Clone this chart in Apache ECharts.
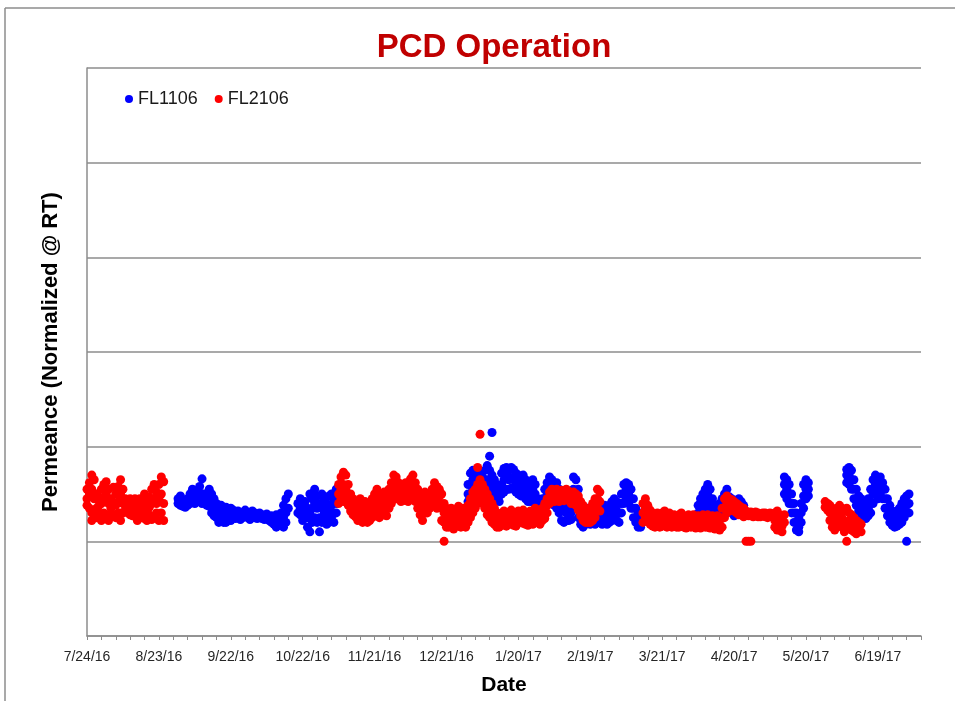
<!DOCTYPE html>
<html>
<head>
<meta charset="utf-8">
<script src="https://cdn.jsdelivr.net/npm/echarts@6/dist/echarts.min.js"></script>
<style>
  html, body { margin: 0; padding: 0; background: #fff; }
  #chart { width: 955px; height: 701px; }
</style>
</head>
<body>
<div id="chart"></div>
<script>
// x = days since 7/24/16, each row: [day, reading, reading, ...]
const startDate = new Date(2016, 6, 24);
const labelStep = 30;   // one date label every 30 days
const tickStep = 6;     // one tick every 6 days
const dayMax = 348;
const yTicks = [0, 1, 2, 3, 4, 5, 6];

// FL1106 (blue)
const fl1106_sep = [
  [38,1.45,1.4],[39,1.48,1.38],[40,1.42,1.37],[41,1.4,1.36],[42,1.45,1.38],[43,1.5,1.4],
  [44,1.55,1.42],[45,1.48,1.4],[46,1.52,1.42],[47,1.58,1.45],[48,1.66,1.5,1.4],[49,1.5,1.42],
  [50,1.45,1.38],[51,1.55,1.45,1.37],[52,1.5,1.4,1.3],[53,1.45,1.35,1.27],[54,1.4,1.3,1.25],
  [55,1.35,1.28,1.2],[56,1.38,1.3,1.22],[57,1.33,1.25,1.2],[58,1.36,1.28,1.2],[59,1.3,1.25],
  [60,1.35,1.27,1.22],[61,1.33,1.25],[62,1.3,1.24],[63,1.32,1.26],[64,1.28,1.23],[65,1.3,1.25],
  [66,1.33,1.27],[67,1.3,1.25],[68,1.28,1.23],[69,1.32,1.27],[70,1.3,1.25],[71,1.28,1.24],
  [72,1.3,1.26],[73,1.28,1.24],[74,1.27,1.23],[75,1.29,1.25],[76,1.26,1.22],[77,1.27,1.2],
  [78,1.25,1.18],[79,1.28,1.2,1.15],[80,1.25,1.17],[81,1.3,1.2],[82,1.38,1.25,1.15],
  [83,1.45,1.3,1.2],[84,1.5,1.35]
];
const fl1106_oct = [
  [88,1.4,1.3],[89,1.45,1.35,1.28],[90,1.38,1.3,1.22],[91,1.42,1.32,1.25],[92,1.35,1.25,1.15],
  [93,1.5,1.3,1.1],[94,1.45,1.35,1.2],[95,1.55,1.4,1.25],[96,1.48,1.35,1.2],[97,1.4,1.25,1.1],
  [98,1.5,1.35,1.2],[99,1.45,1.3,1.22],[100,1.4,1.28,1.18],[101,1.48,1.35,1.2],
  [102,1.5,1.38,1.25],[103,1.45,1.3,1.2],[104,1.55,1.4,1.3]
];
const fl1106_jan = [
  [159,1.6,1.5,1.42],[160,1.72,1.6,1.5],[161,1.75,1.65,1.55],[162,1.7,1.6,1.5],[163,1.68,1.58,1.48],
  [164,1.72,1.62,1.52],[165,1.68,1.55,1.45],[166,1.75,1.6,1.5],[167,1.8,1.65,1.55],
  [168,1.9,1.75,1.6,1.48],[169,2.15,1.7,1.55,1.45],[170,1.65,1.55,1.45],[171,1.6,1.5,1.45],
  [172,1.58,1.48,1.42],[173,1.72,1.6,1.5],[174,1.77,1.65,1.52],[175,1.78,1.68,1.55],
  [176,1.75,1.65,1.55],[177,1.78,1.67,1.56],[178,1.76,1.65,1.55],[179,1.72,1.62,1.52],
  [180,1.7,1.6,1.5],[181,1.68,1.58,1.48],[182,1.7,1.6,1.5],[183,1.65,1.55,1.45],
  [184,1.62,1.52,1.42],[185,1.58,1.5,1.42],[186,1.65,1.55,1.45],[187,1.6,1.5,1.4],
  [188,1.45,1.4,1.35],[189,1.42,1.37,1.33],[190,1.45,1.38,1.32],[191,1.55,1.45,1.35],
  [192,1.62,1.5,1.38],[193,1.68,1.55,1.45],[194,1.65,1.52,1.4],[195,1.6,1.5,1.38],
  [196,1.62,1.5,1.35],[197,1.55,1.4,1.3],[198,1.48,1.35,1.22],[199,1.45,1.32,1.2],
  [200,1.42,1.3,1.22],[201,1.35,1.28,1.22],[202,1.4,1.3,1.23],[203,1.68,1.55,1.45],
  [204,1.65,1.5,1.35],[205,1.55,1.4,1.25],[206,1.35,1.25,1.18],[207,1.3,1.22,1.15],
  [208,1.33,1.25,1.18],[209,1.35,1.28,1.2],[210,1.32,1.24,1.18],[211,1.35,1.27,1.2],
  [212,1.42,1.3,1.18],[213,1.4,1.3,1.2],[214,1.38,1.28,1.2],[215,1.35,1.25,1.18],
  [216,1.38,1.28,1.2],[217,1.33,1.25,1.18],[218,1.38,1.3,1.2],[219,1.42,1.32,1.22],
  [220,1.45,1.35,1.25],[221,1.42,1.32,1.22],[222,1.4,1.3,1.2],[223,1.5,1.4,1.3],
  [224,1.6,1.5,1.4],[225,1.62,1.55,1.45],[226,1.6,1.5,1.4],[227,1.55,1.45,1.35],
  [228,1.45,1.35,1.25],[229,1.35,1.25,1.2],[230,1.3,1.22,1.15],[231,1.22,1.15]
];
const fl1106_apr = [
  [255,1.38,1.3],[256,1.45,1.35,1.28],[257,1.5,1.4,1.3],[258,1.55,1.45,1.35],[259,1.6,1.5,1.38],
  [260,1.55,1.45,1.35],[261,1.45,1.35,1.27],[262,1.38,1.3,1.25],[263,1.35,1.28,1.22],
  [264,1.4,1.32,1.25],[265,1.45,1.38,1.3],[266,1.5,1.4,1.32],[267,1.55,1.45,1.35],
  [268,1.47,1.4,1.33],[269,1.45,1.38,1.3],[270,1.4,1.33,1.27],[271,1.42,1.35,1.28],
  [272,1.45,1.38,1.3],[273,1.42,1.35,1.28],[274,1.38,1.3]
];
const fl1106_may = [
  [291,1.68,1.6,1.5],[292,1.65,1.55,1.45],[293,1.6,1.5,1.4],[294,1.5,1.4,1.3],[295,1.4,1.3,1.2],
  [296,1.3,1.2,1.12],[297,1.25,1.15,1.1],[298,1.4,1.3,1.2],[299,1.6,1.48,1.35],
  [300,1.65,1.55,1.45],[301,1.62,1.55,1.48]
];
const fl1106_jun = [
  [317,1.76,1.7,1.62],[318,1.78,1.7,1.6],[319,1.75,1.65,1.55],[320,1.65,1.55,1.45],
  [321,1.55,1.45,1.38],[322,1.48,1.4,1.32],[323,1.45,1.35,1.25],[324,1.42,1.32,1.25],
  [325,1.4,1.3,1.24],[326,1.45,1.35,1.27],[327,1.55,1.42,1.3],[328,1.65,1.5,1.4],
  [329,1.7,1.6,1.5],[330,1.65,1.55,1.45],[331,1.68,1.6,1.5],[332,1.62,1.55,1.45],
  [333,1.55,1.45,1.35],[334,1.45,1.35,1.27],[335,1.38,1.28,1.2],[336,1.32,1.24,1.17],
  [337,1.3,1.22,1.15],[338,1.32,1.24,1.16],[339,1.35,1.25,1.18],[340,1.4,1.3,1.2],
  [341,1.45,1.35,1.25],[342,1.48,1.38,1.0],[343,1.5,1.4,1.3]
];

// FL2106 (red)
const fl2106_aug = [
  [0,1.55,1.45,1.38],[1,1.62,1.5,1.35],[2,1.7,1.55,1.3,1.22],[3,1.65,1.45,1.28],[4,1.5,1.35,1.25],
  [5,1.47,1.38,1.3],[6,1.55,1.4,1.22],[7,1.6,1.45,1.3],[8,1.63,1.5,1.25],[9,1.55,1.4,1.22],
  [10,1.45,1.35,1.3],[11,1.57,1.4,1.28],[12,1.5,1.38,1.25],[13,1.58,1.42,1.3],
  [14,1.65,1.5,1.3,1.22],[15,1.55,1.4,1.3],[16,1.45,1.38,1.33],[17,1.43,1.36,1.3],
  [18,1.45,1.38,1.28],[19,1.42,1.35,1.27],[20,1.45,1.37,1.3],[21,1.42,1.33,1.22],
  [22,1.45,1.35,1.28],[23,1.4,1.32,1.25],[24,1.5,1.35,1.24],[25,1.43,1.33,1.22],
  [26,1.47,1.36,1.28],[27,1.55,1.4,1.23],[28,1.6,1.45,1.25],[29,1.52,1.4,1.3],
  [30,1.6,1.45,1.22],[31,1.68,1.5,1.3],[32,1.63,1.4,1.22]
];
const fl2106_nov = [
  [105,1.6,1.5,1.4],[106,1.68,1.55,1.45],[107,1.73,1.6,1.5,1.42],[108,1.7,1.55,1.45],
  [109,1.6,1.45,1.38],[110,1.5,1.4,1.32],[111,1.45,1.36,1.28],[112,1.42,1.33,1.26],
  [113,1.4,1.3,1.22],[114,1.45,1.35,1.25],[115,1.38,1.3,1.2],[116,1.42,1.32,1.23],
  [117,1.35,1.27,1.2],[118,1.4,1.3,1.22],[119,1.45,1.35,1.25],[120,1.5,1.38,1.27],
  [121,1.55,1.42,1.3],[122,1.45,1.35,1.25],[123,1.5,1.4,1.3],[124,1.52,1.4,1.28],
  [125,1.45,1.36,1.27],[126,1.55,1.45,1.35],[127,1.62,1.5,1.4],[128,1.7,1.58,1.48],
  [129,1.68,1.55,1.45],[130,1.62,1.52,1.45],[131,1.6,1.5,1.42],[132,1.58,1.5,1.43],
  [133,1.62,1.52,1.45],[134,1.6,1.5,1.42],[135,1.66,1.55,1.47],[136,1.7,1.6,1.5],
  [137,1.62,1.5,1.42],[138,1.55,1.45,1.35],[139,1.5,1.4,1.28],[140,1.45,1.35,1.22],
  [141,1.52,1.4,1.3],[142,1.48,1.38,1.3],[143,1.5,1.42,1.35],[144,1.55,1.45,1.38],
  [145,1.62,1.5,1.4],[146,1.58,1.45,1.35],[147,1.55,1.47,1.4],[148,1.5,1.35,1.22],
  [149,1.4,1.3,1.2,1.0],[150,1.35,1.25,1.15],[151,1.3,1.22,1.15],[152,1.35,1.25,1.18],
  [153,1.3,1.2,1.13],[154,1.33,1.25,1.17],[155,1.37,1.27,1.2],[156,1.3,1.22,1.15],
  [157,1.35,1.25,1.18],[158,1.3,1.22,1.15],[159,1.38,1.28,1.2],[160,1.45,1.35,1.25],
  [161,1.52,1.4,1.3],[162,1.55,1.45,1.35],[163,1.78,1.6,1.5,1.4],[164,2.13,1.65,1.55,1.45],
  [165,1.6,1.5,1.4],[166,1.55,1.45,1.35],[167,1.5,1.4,1.28],[168,1.45,1.35,1.25],
  [169,1.4,1.3,1.2],[170,1.35,1.25,1.18],[171,1.3,1.22,1.15],[172,1.28,1.2,1.15],
  [173,1.3,1.22,1.17],[174,1.32,1.25,1.2],[175,1.28,1.22,1.16],[176,1.3,1.24,1.18],
  [177,1.33,1.26,1.2],[178,1.3,1.23,1.17],[179,1.28,1.22,1.16],[180,1.32,1.25,1.2],
  [181,1.3,1.23],[182,1.33,1.26,1.19],[183,1.3,1.24,1.18],[184,1.28,1.22,1.17],
  [185,1.32,1.25,1.19],[186,1.3,1.24,1.18],[187,1.35,1.27,1.2],[188,1.33,1.25,1.2],
  [189,1.3,1.24,1.18],[190,1.35,1.28,1.22],[191,1.4,1.3,1.24],[192,1.45,1.38,1.3],
  [193,1.52,1.45,1.4],[194,1.55,1.5,1.45],[195,1.53,1.48,1.42],[196,1.55,1.5,1.45],
  [197,1.52,1.47,1.42],[198,1.54,1.49,1.44],[199,1.52,1.47,1.43],[200,1.55,1.5,1.45],
  [201,1.53,1.48,1.43],[202,1.5,1.45,1.4],[203,1.52,1.46,1.4],[204,1.5,1.44,1.38],
  [205,1.48,1.4,1.33],[206,1.42,1.35,1.27],[207,1.38,1.3,1.22],[208,1.35,1.27,1.2],
  [209,1.33,1.25,1.2],[210,1.35,1.27,1.2],[211,1.4,1.3,1.22],[212,1.45,1.35,1.25],
  [213,1.55,1.45,1.35],[214,1.52,1.42,1.32]
];
const fl2106_mar = [
  [232,1.4,1.3,1.2],[233,1.45,1.35,1.25],[234,1.38,1.3,1.22],[235,1.33,1.25,1.18],
  [236,1.3,1.23,1.16],[237,1.28,1.22,1.15],[238,1.3,1.23,1.17],[239,1.27,1.2,1.15],
  [240,1.3,1.22,1.16],[241,1.32,1.25,1.18],[242,1.28,1.2,1.15],[243,1.3,1.23,1.17],
  [244,1.27,1.2,1.15],[245,1.28,1.22,1.16],[246,1.26,1.2,1.15],[247,1.28,1.21,1.15],
  [248,1.3,1.23,1.17],[249,1.27,1.2,1.15],[250,1.25,1.19,1.14],[251,1.28,1.22,1.16],
  [252,1.26,1.2,1.15],[253,1.28,1.22,1.16],[254,1.25,1.19,1.14],[255,1.27,1.21,1.15],
  [256,1.25,1.19,1.14],[257,1.28,1.22,1.16],[258,1.26,1.2,1.15],[259,1.28,1.21,1.15],
  [260,1.25,1.19,1.14],[261,1.27,1.2,1.15],[262,1.25,1.19,1.13],[263,1.27,1.2,1.14],
  [264,1.25,1.18,1.12],[265,1.35,1.25,1.15],[266,1.45,1.35,1.25],[267,1.48,1.4,1.3],
  [268,1.45,1.4,1.35],[269,1.44,1.38,1.33],[270,1.42,1.37,1.32],[271,1.4,1.35,1.3],
  [272,1.38,1.33,1.28],[273,1.36,1.32,1.28],[274,1.35,1.3,1.26],[275,1.32,1.28,1.0],
  [276,1.3,1.27,1.0],[277,1.31,1.27,1.0],[278,1.3,1.26],[279,1.31,1.27],[280,1.3,1.26],
  [281,1.29,1.26],[282,1.3,1.27],[283,1.3,1.26],[284,1.29,1.25],[285,1.3,1.27],
  [286,1.29,1.26],[287,1.3,1.22,1.15],[288,1.32,1.22,1.12],[289,1.28,1.18,1.12],
  [290,1.25,1.16,1.1],[291,1.28,1.2]
];
const fl2106_jun = [
  [308,1.42,1.36],[309,1.4,1.33],[310,1.38,1.3,1.22],[311,1.35,1.25,1.15],[312,1.3,1.2,1.12],
  [313,1.35,1.26,1.18],[314,1.38,1.3,1.22],[315,1.35,1.25,1.15],[316,1.32,1.2,1.1],
  [317,1.35,1.2,1.0],[318,1.3,1.22,1.15],[319,1.28,1.2,1.12],[320,1.25,1.18,1.1],
  [321,1.22,1.15,1.08],[322,1.2,1.12],[323,1.18,1.1]
];

// rows -> [day, value] pairs
function toPoints(rows) {
  const pts = [];
  rows.forEach(r => {
    for (let i = 1; i < r.length; i++) pts.push([r[0], r[i]]);
  });
  return pts;
}

const fl1106 = toPoints([].concat(fl1106_sep, fl1106_oct, fl1106_jan, fl1106_apr, fl1106_may, fl1106_jun));
const fl2106 = toPoints([].concat(fl2106_aug, fl2106_nov, fl2106_mar, fl2106_jun));

function dayLabel(v) {
  if (v % labelStep !== 0 || v > 330) return '';
  const d = new Date(startDate.getTime());
  d.setDate(d.getDate() + v);
  return (d.getMonth() + 1) + '/' + d.getDate() + '/' + String(d.getFullYear()).slice(2);
}

const gray = '#8c8c8c';

const chart = echarts.init(document.getElementById('chart'));
chart.setOption({
  animation: false,
  backgroundColor: '#fff',
  title: {
    text: 'PCD Operation',
    left: 489,
    textAlign: 'center',
    top: 26,
    textStyle: { color: '#C00000', fontSize: 33, fontWeight: 'bold', fontFamily: 'Liberation Sans' }
  },
  legend: {
    left: 120,
    top: 85,
    icon: 'circle',
    itemWidth: 8,
    itemHeight: 8,
    itemGap: 17,
    textStyle: { color: '#1a1a1a', fontSize: 18, fontFamily: 'Liberation Sans' },
    data: ['FL1106', 'FL2106']
  },
  grid: { left: 87, right: 34, top: 68, bottom: 61 },
  xAxis: {
    type: 'value',
    min: 0,
    max: dayMax,
    interval: tickStep,
    name: 'Date',
    nameLocation: 'middle',
    nameGap: 39,
    nameTextStyle: { fontSize: 21, fontWeight: 'bold', color: '#000', fontFamily: 'Liberation Sans' },
    axisLine: { show: true, lineStyle: { color: gray, width: 1.5 } },
    axisTick: { show: true, length: 4, lineStyle: { color: gray } },
    axisLabel: {
      formatter: dayLabel,
      margin: 14,
      fontSize: 14,
      color: '#262626',
      fontFamily: 'Liberation Sans'
    },
    splitLine: { show: false }
  },
  yAxis: {
    type: 'value',
    min: yTicks[0],
    max: yTicks[yTicks.length - 1],
    interval: 1,
    name: 'Permeance (Normalized @ RT)',
    nameLocation: 'middle',
    nameGap: 25,
    nameTextStyle: { fontSize: 22, fontWeight: 'bold', color: '#000', fontFamily: 'Liberation Sans' },
    axisLine: { show: true, lineStyle: { color: gray, width: 1.5 } },
    axisTick: { show: false },
    axisLabel: { show: false },
    splitLine: { show: true, lineStyle: { color: gray, width: 1.5 } }
  },
  graphic: [
    { type: 'line', shape: { x1: 5, y1: 8, x2: 955, y2: 8 }, style: { stroke: gray, lineWidth: 1.5 } },
    { type: 'line', shape: { x1: 5, y1: 8, x2: 5, y2: 701 }, style: { stroke: gray, lineWidth: 1.5 } }
  ],
  series: [
    {
      name: 'FL1106',
      type: 'scatter',
      symbolSize: 9,
      itemStyle: { color: '#0000FF', opacity: 1 },
      data: fl1106
    },
    {
      name: 'FL2106',
      type: 'scatter',
      symbolSize: 9,
      itemStyle: { color: '#FF0000', opacity: 1 },
      data: fl2106
    }
  ]
});
</script>
</body>
</html>
